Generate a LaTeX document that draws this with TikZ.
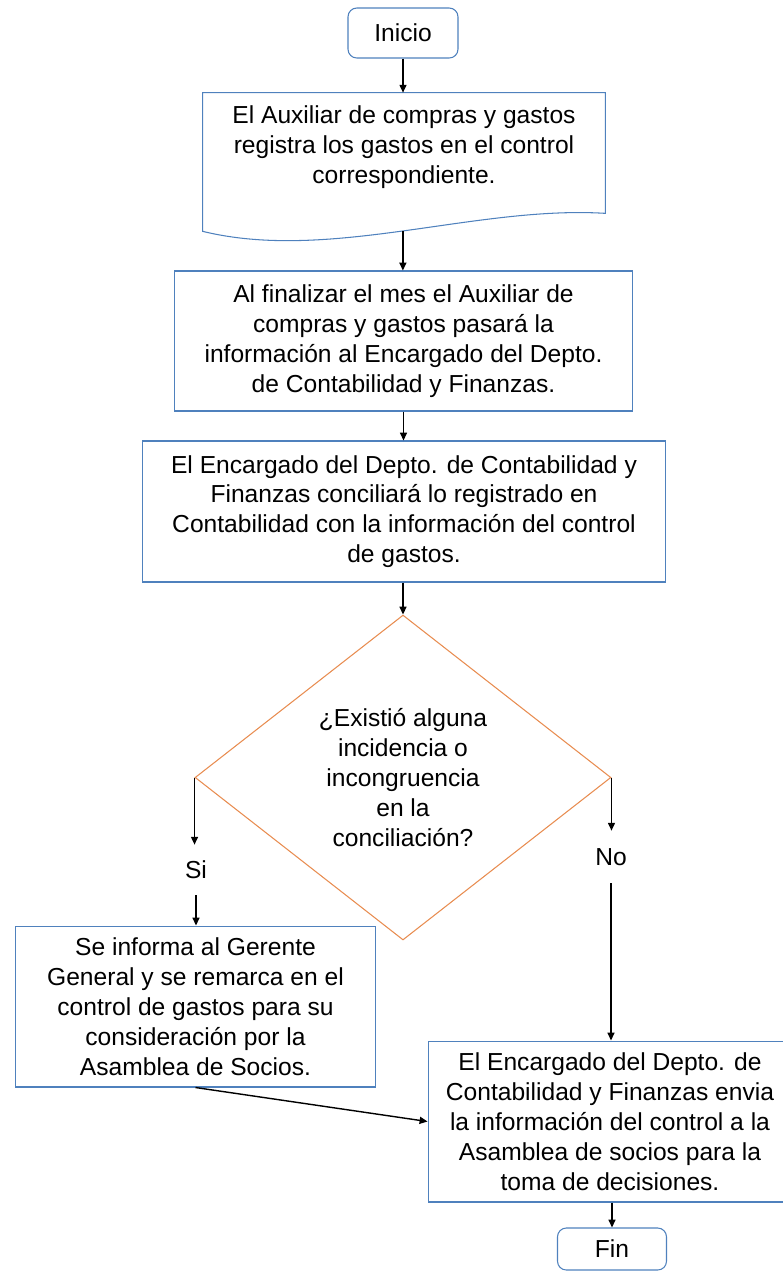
\documentclass[tikz,border=0pt]{standalone}
\usepackage{fontspec}
\setmainfont{Liberation Sans}
\usetikzlibrary{arrows.meta,calc,shapes.geometric}

\definecolor{caja}{RGB}{79,129,189}
\definecolor{rombo}{RGB}{232,140,80}

\begin{document}
\begin{tikzpicture}[x=0.02cm,y=-0.02cm,font=\fontsize{14}{17}\selectfont,
  paso/.style={draw=caja,line width=0.6pt,align=center,inner sep=0pt},
  limite/.style={paso,rounded corners=5pt},
  flecha/.style={line width=0.8pt,-{Triangle[length=4.5pt,width=4pt]}}]
\useasboundingbox (0,0) rectangle (782,1272);

\node[limite,minimum width=2.2cm,minimum height=1cm] (inicio) at (403,33) {Inicio};
\node[align=center,inner sep=0pt,minimum width=8.04cm,minimum height=2.16cm] (registro) at (404,147) {El Auxiliar de compras y gastos\\registra los gastos en el control\\correspondiente.};
\draw[draw=caja,line width=0.6pt] (registro.north west) -- (registro.north east) -- ($(registro.south east)+(0,12)$)
  .. controls ($(registro.south east)+(-130,4)$) and ($(registro.south west)+(127,61)$) .. coordinate[pos=0.5] (registro-pie) ($(registro.south west)+(0,30)$) -- cycle;
\node[paso,minimum width=9.18cm,minimum height=2.8cm] (pase) at (403.5,341) {Al finalizar el mes el Auxiliar de\\compras y gastos pasará la\\información al Encargado del Depto.\\de Contabilidad y Finanzas.};
\node[paso,minimum width=10.48cm,minimum height=2.82cm] (concilia) at (404,511.5) {El Encargado del Depto. de Contabilidad y\\Finanzas conciliará lo registrado en\\Contabilidad con la información del control\\de gastos.};
\node[diamond,draw=rombo,line width=0.6pt,align=center,inner sep=0pt,minimum width=8.32cm,minimum height=6.5cm] (duda) at (403,777.5) {¿Existió alguna\\incidencia o\\incongruencia\\en la\\conciliación?};

\node[inner sep=0pt,minimum height=1cm] (si) at (196,870) {Si};
\node[inner sep=0pt,minimum height=1.04cm] (no) at (611,857) {No};
\node[paso,minimum width=7.22cm,minimum height=3.22cm] (informa) at (195.5,1006.5) {Se informa al Gerente\\General y se remarca en el\\control de gastos para su\\consideración por la\\Asamblea de Socios.};
\node[paso,minimum width=7.28cm,minimum height=3.22cm] (envia) at (610,1121.5) {El Encargado del Depto. de\\Contabilidad y Finanzas envia\\la información del control a la\\Asamblea de socios para la\\toma de decisiones.};
\node[limite,minimum width=2.18cm,minimum height=0.84cm] (fin) at (612,1249) {Fin};

\draw[flecha] (inicio.south) -- (inicio.south |- registro.north);
\draw[flecha] (registro-pie) -- (registro-pie |- pase.north);
\draw[flecha] (pase.south) -- (pase.south |- concilia.north);
\draw[flecha] (duda.north |- concilia.south) -- (duda.north);
\draw[flecha] (duda.west) -- (duda.west |- si.north);
\draw[flecha] (si.south) -- (si.south |- informa.north);
\draw[flecha] (duda.east) -- (duda.east |- no.north);
\draw[flecha] (no.south) -- (no.south |- envia.north);
\draw[flecha] (informa.south) -- (envia.west);
\draw[flecha] (fin.north |- envia.south) -- (fin.north);

\end{tikzpicture}
\end{document}
